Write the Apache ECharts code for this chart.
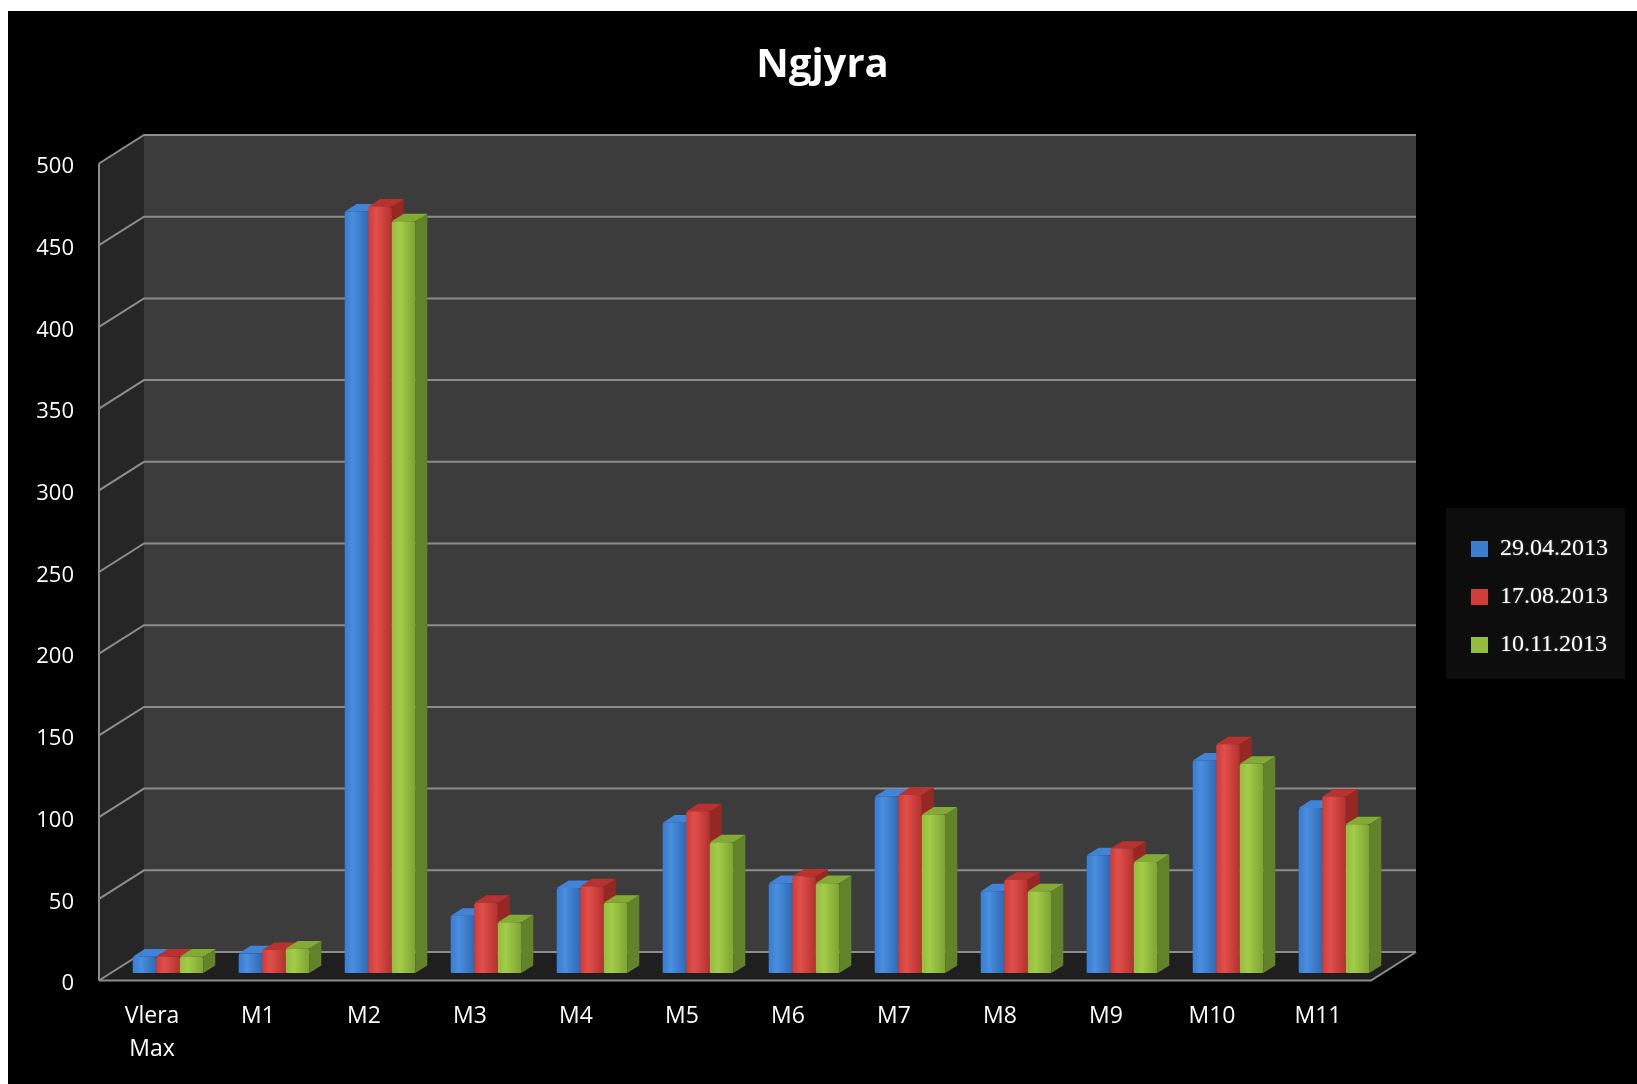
<!DOCTYPE html>
<html>
<head>
<meta charset="utf-8">
<script src="https://cdn.jsdelivr.net/npm/echarts@6/dist/echarts.min.js"></script>
<style>
  html, body { margin: 0; padding: 0; background: #ffffff; }
  #main { position: absolute; left: 8px; top: 11px; width: 1629px; height: 1073px; }
</style>
</head>
<body>
<div id="main"></div>
<script>
// Categories and measurements
const categories = ['Vlera\nMax', 'M1', 'M2', 'M3', 'M4', 'M5', 'M6', 'M7', 'M8', 'M9', 'M10', 'M11'];
const seriesNames = ['29.04.2013', '17.08.2013', '10.11.2013'];
const values0429 = [10, 12, 466, 35, 52, 92, 55, 108, 50, 72, 130, 101];
const values0817 = [10, 14, 469, 43, 53, 99, 59, 109, 57, 76, 140, 108];
const values1011 = [10, 15, 460, 31, 43, 80, 55, 97, 50, 68, 128, 91];

const AXIS_MIN = 0, AXIS_MAX = 500, AXIS_STEP = 50;

// Depth of the 3D box (back wall offset from the front plane)
const DEPTH = [45, -28.5];
// Bars stand a little behind the front edge of the floor
const BAR_SHIFT = [16, -7.5];
const BAR_DEPTH = [12, -7.6];
const BAR_WIDTH_RATIO = 0.222;

const palettes = [
  { front: ['#4a8fe0', '#3a7ccf', '#2f69b4'], top: '#3f84d6', side: '#2a5c9e', legend: '#3a7ccf' },
  { front: ['#e0504b', '#d03c38', '#b5302d'], top: '#b8322f', side: '#962824', legend: '#d03c38' },
  { front: ['#a3cc48', '#93bd3e', '#7ea334'], top: '#84aa36', side: '#63832a', legend: '#93bd3e' }
];

const chart = echarts.init(document.getElementById('main'), null, { renderer: 'canvas' });

function frameRender(params, api) {
  const cs = params.coordSys;
  const x0 = cs.x, x1 = cs.x + cs.width;
  const yTop = cs.y, yBot = cs.y + cs.height;
  const dx = DEPTH[0], dy = DEPTH[1];
  const children = [];
  // back wall
  children.push({ type: 'rect', shape: { x: x0 + dx, y: yTop + dy, width: cs.width, height: cs.height },
    style: { fill: '#3c3c3c' }, silent: true });
  // left side wall
  children.push({ type: 'polygon', shape: { points: [[x0, yTop], [x0 + dx, yTop + dy], [x0 + dx, yBot + dy], [x0, yBot]] },
    style: { fill: '#262626' }, silent: true });
  // floor
  children.push({ type: 'polygon', shape: { points: [[x0, yBot], [x0 + dx, yBot + dy], [x1 + dx, yBot + dy], [x1, yBot]] },
    style: { fill: '#1f1f1f' }, silent: true });
  // gridlines on the back wall and the side wall
  for (let t = AXIS_MIN; t <= AXIS_MAX; t += AXIS_STEP) {
    const y = api.coord([0, t])[1];
    children.push({ type: 'polyline', shape: { points: [[x0, y], [x0 + dx, y + dy], [x1 + dx, y + dy]] },
      style: { stroke: '#8c8c8c', lineWidth: 2, fill: null }, silent: true });
  }
  // floor front edge and right edge
  children.push({ type: 'polyline', shape: { points: [[x0, yBot], [x1, yBot], [x1 + dx, yBot + dy]] },
    style: { stroke: '#8c8c8c', lineWidth: 2, fill: null }, silent: true });
  // front vertical edge
  children.push({ type: 'line', shape: { x1: x0, y1: yTop, x2: x0, y2: yBot },
    style: { stroke: '#8c8c8c', lineWidth: 2 }, silent: true });
  return { type: 'group', children: children };
}

function makeBarRender(idx) {
  const pal = palettes[idx];
  return function (params, api) {
    const c = api.value(0);
    const v = api.value(1);
    const base = api.coord([c, 0]);
    const topPt = api.coord([c, v]);
    const band = api.size([1, 0])[0];
    const w = band * BAR_WIDTH_RATIO;
    const cx = base[0] + BAR_SHIFT[0];
    const xL = cx + (idx - 1.5) * w;
    const xR = xL + w;
    const yB = base[1] + BAR_SHIFT[1];
    const yT = topPt[1] + BAR_SHIFT[1];
    const ddx = BAR_DEPTH[0], ddy = BAR_DEPTH[1];
    return {
      type: 'group',
      children: [
        { type: 'polygon', shape: { points: [[xR, yT], [xR + ddx, yT + ddy], [xR + ddx, yB + ddy], [xR, yB]] },
          style: { fill: pal.side } },
        { type: 'polygon', shape: { points: [[xL, yT], [xL + ddx, yT + ddy], [xR + ddx, yT + ddy], [xR, yT]] },
          style: { fill: pal.top } },
        { type: 'rect', shape: { x: xL, y: yT, width: w, height: yB - yT, r: [2, 2, 1, 1] },
          style: { fill: new echarts.graphic.LinearGradient(0, 0, 1, 0, [
            { offset: 0, color: pal.front[1] },
            { offset: 0.35, color: pal.front[0] },
            { offset: 1, color: pal.front[2] }
          ]) } }
      ]
    };
  };
}

const valueSets = [values0429, values0817, values1011];

const barSeries = valueSets.map(function (vals, idx) {
  return {
    type: 'custom',
    name: seriesNames[idx],
    z: 3,
    itemStyle: { color: palettes[idx].legend },
    renderItem: makeBarRender(idx),
    encode: { x: 0, y: 1 },
    data: vals.map(function (v, i) { return [i, v]; })
  };
});

const option = {
  backgroundColor: '#000000',
  animation: false,
  title: {
    text: 'Ngjyra',
    left: 'center',
    top: 26,
    textStyle: { color: '#ffffff', fontFamily: 'Open Sans', fontWeight: 'bold', fontSize: 40, lineHeight: 48 }
  },
  legend: {
    orient: 'vertical',
    left: 1438,
    top: 497,
    padding: [29, 17, 22, 25],
    itemGap: 24,
    itemWidth: 17,
    itemHeight: 16,
    icon: 'rect',
    backgroundColor: '#0d0d0d',
    data: seriesNames,
    textStyle: {
      color: '#ffffff', fontFamily: 'Liberation Serif', fontSize: 24, lineHeight: 24, padding: [0, 0, 0, 7],
      textShadowColor: 'rgba(255,255,255,0.35)', textShadowBlur: 2
    }
  },
  grid: { left: 91, top: 152.5, width: 1272, height: 817 },
  xAxis: {
    type: 'category',
    data: categories,
    axisLine: { show: false },
    axisTick: { show: false },
    axisLabel: { color: '#ffffff', fontFamily: 'Open Sans', fontSize: 23, lineHeight: 33, margin: 19, interval: 0 }
  },
  yAxis: {
    type: 'value',
    min: AXIS_MIN,
    max: AXIS_MAX,
    interval: AXIS_STEP,
    axisLine: { show: false },
    axisTick: { show: false },
    splitLine: { show: false },
    axisLabel: {
      margin: 25,
      formatter: function (v) { return '{v|' + v + '}'; },
      rich: {
        v: { color: '#ffffff', fontFamily: 'Open Sans', fontSize: 22, lineHeight: 22, padding: [7, 0, 0, 0] }
      }
    }
  },
  series: [
    {
      type: 'custom',
      z: 1,
      silent: true,
      renderItem: frameRender,
      data: [[0, 0]]
    }
  ].concat(barSeries)
};

chart.setOption(option);
</script>
</body>
</html>
